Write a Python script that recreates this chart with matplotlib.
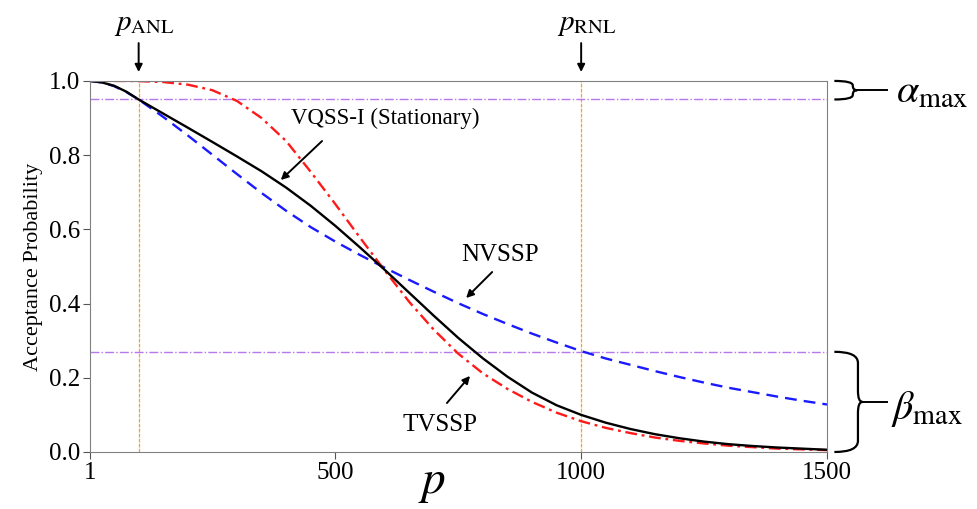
import matplotlib.pyplot as plt
from matplotlib.path import Path
from matplotlib.patches import PathPatch

plt.rcParams['font.family'] = ['Liberation Serif', 'DejaVu Serif']
plt.rcParams['mathtext.fontset'] = 'stix'

# sample sizes
p_vals = [1, 25, 50, 75, 100, 150, 200, 250, 300, 350, 400, 450, 500, 550,
          600, 650, 700, 750, 800, 850, 900, 950, 1000, 1050, 1100, 1150,
          1200, 1250, 1300, 1350, 1400, 1450, 1500]

vqss = [1.0, 0.996, 0.987, 0.971, 0.95, 0.912, 0.874, 0.8355, 0.7965,
        0.7565, 0.7125, 0.6635, 0.6095, 0.5515, 0.4915, 0.4295, 0.3675,
        0.3075, 0.2525, 0.203, 0.16, 0.126, 0.10, 0.079, 0.062, 0.048,
        0.037, 0.028, 0.021, 0.016, 0.012, 0.009, 0.006]

nvssp = [1.0, 0.996, 0.986, 0.97, 0.95, 0.903, 0.853, 0.801, 0.749, 0.698,
         0.65, 0.606, 0.567, 0.531, 0.497, 0.464, 0.432, 0.401, 0.372,
         0.345, 0.319, 0.295, 0.272, 0.252, 0.235, 0.218, 0.202, 0.187,
         0.173, 0.161, 0.149, 0.138, 0.128]

tvssp = [1.0, 1.0, 1.0, 1.0, 0.9995, 0.997, 0.99, 0.975, 0.946, 0.90, 0.838,
         0.755, 0.668, 0.578, 0.49, 0.405, 0.33, 0.265, 0.212, 0.17, 0.135,
         0.106, 0.083, 0.065, 0.051, 0.039, 0.03, 0.023, 0.017, 0.013, 0.009,
         0.007, 0.005]

p_anl = 100
p_rnl = 1000
alpha_line = 0.95
beta_line = 0.27

x_ticks = [1, 500, 1000, 1500]
y_ticks = [0.0, 0.2, 0.4, 0.6, 0.8, 1.0]


def draw_brace(ax, y_top, y_bot, r, x1, x2):
    # curly brace right of the axes; x in axes coords, y in data coords
    x0, x3 = 1.010, 1.081
    ym = (y_top + y_bot) / 2
    verts = [(x0, y_top), (x1, y_top), (x1, y_top - r),
             (x1, ym + r), (x1, ym), (x2, ym),
             (x1, ym), (x1, ym - r),
             (x1, y_bot + r), (x1, y_bot), (x0, y_bot)]
    codes = [Path.MOVETO, Path.CURVE3, Path.CURVE3,
             Path.LINETO, Path.CURVE3, Path.CURVE3,
             Path.CURVE3, Path.CURVE3,
             Path.LINETO, Path.CURVE3, Path.CURVE3]
    tr = ax.get_yaxis_transform()
    ax.add_patch(PathPatch(Path(verts, codes), fill=False, lw=1.6,
                           color='black', transform=tr, clip_on=False))
    ax.plot([x2, x3], [ym, ym], color='black', lw=1.4, transform=tr,
            clip_on=False)


def arrow(ax, tail, tip):
    ax.annotate('', xy=tip, xytext=tail, annotation_clip=False,
                arrowprops=dict(arrowstyle='-|>', color='black', lw=1.4,
                                shrinkA=0, shrinkB=0, mutation_scale=11))


fig = plt.figure(figsize=(9.78, 5.09), dpi=100)
ax = fig.add_axes([0.092, 0.112, 0.7536, 0.729])

ax.axvline(p_anl, color='#f7a520', lw=0.9, ls=(0, (3, 1)))
ax.axvline(p_rnl, color='#f7a520', lw=0.9, ls=(0, (3, 1)))
ax.axhline(alpha_line, color='#b777ee', lw=1.0, ls='-.')
ax.axhline(beta_line, color='#b777ee', lw=1.0, ls='-.')

ax.plot(p_vals, nvssp, color='#1a1aff', lw=1.7, ls=(0, (5, 3)))
ax.plot(p_vals, tvssp, color='#ff1a1a', lw=1.7, ls=(0, (5, 2, 1.2, 2)))
ax.plot(p_vals, vqss, color='black', lw=1.7)

ax.set_xlim(1, 1500)
ax.set_ylim(0, 1.0)
ax.set_xticks(x_ticks)
ax.set_yticks(y_ticks)
ax.set_yticklabels([f'{v:.1f}' for v in y_ticks])
for s in ax.spines.values():
    s.set_color('#808080')
ax.tick_params(axis='both', labelsize=18, color='#555555', length=5,
               direction='out', pad=2)
ax.tick_params(top=False, right=False)

ax.set_ylabel('Acceptance Probability', fontsize=16, labelpad=4)
fig.text(432 / 978, 1 - 484 / 509, r'$p$', fontsize=34,
         ha='center', va='center')

# curve labels
ax.text(601, 0.90, 'VQSS-I (Stationary)', fontsize=16.5,
        ha='center', va='center')
arrow(ax, (473, 0.838), (389, 0.733))
ax.text(835, 0.531, 'NVSSP', fontsize=18, ha='center', va='center')
arrow(ax, (819, 0.485), (766, 0.415))
ax.text(713, 0.073, 'TVSSP', fontsize=18, ha='center', va='center')
arrow(ax, (727, 0.132), (774, 0.205))

# limit markers above the plot
for xv, lab in [(p_anl, r'$p_{\mathrm{ANL}}$'), (p_rnl, r'$p_{\mathrm{RNL}}$')]:
    arrow(ax, (xv, 1.102), (xv, 1.024))
    ax.text(xv + 12, 1.152, lab, fontsize=21, ha='center', va='center',
            clip_on=False)

draw_brace(ax, 1.0, alpha_line, 0.012, 1.035, 1.041)
draw_brace(ax, beta_line, 0.0, 0.03, 1.042, 1.048)
ax.text(1.093, 0.967, r'$\alpha_{\mathrm{max}}$', fontsize=29,
        transform=ax.get_yaxis_transform(), va='center', ha='left')
ax.text(1.087, 0.116, r'$\beta_{\mathrm{max}}$', fontsize=29,
        transform=ax.get_yaxis_transform(), va='center', ha='left')

fig.savefig('out.png', dpi=100)
